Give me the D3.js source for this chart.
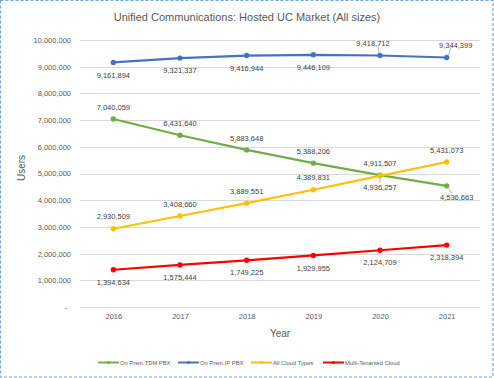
<!DOCTYPE html>
<html><head><meta charset="utf-8">
<script src="https://cdn.jsdelivr.net/npm/d3@7"></script>
<style>body{margin:0;background:#fff;}svg{display:block;font-family:"Liberation Sans",Arial,sans-serif;}</style>
</head><body>
<script>
const years = ["2016","2017","2018","2019","2020","2021"];
const seriesNames = ["On Prem TDM PBX","On Prem IP PBX","All Cloud Types","Multi-Tenanted Cloud"];
const seriesColors = ["#70AD47","#4472C4","#FFC000","#FF0000"];
const tdmPbx = [7040059,6431640,5883648,5388206,4936257,4536663];
const ipPbx = [9161894,9321337,9416944,9446109,9418712,9344399];
const allCloud = [2930509,3408660,3889551,4389831,4911507,5431073];
const multiTenant = [1394634,1575444,1749225,1929955,2124709,2318394];
const yTicks = [0,1000000,2000000,3000000,4000000,5000000,6000000,7000000,8000000,9000000,10000000];
// label placement: dx, dy relative to point; leader flag
const labelPos = [
  [[0,-12],[0,-12],[0,-12],[0,-12],[0,12,1],[10,12,1]],
  [[0,12.5],[0,12.5],[0,12.5],[0,12.5],[-7,-12,1],[9,-12,1]],
  [[0,-12],[0,-12],[0,-12],[0,-12],[0,-12],[0,-12]],
  [[0,12.5],[0,12.5],[0,12.5],[0,12.5],[0,12.5],[0,12.5]]
];
const allSeries = [tdmPbx, ipPbx, allCloud, multiTenant];

const W=494,H=378;
const svg=d3.select("body").append("svg").attr("width",W).attr("height",H);
svg.append("rect").attr("x",0.5).attr("y",0.5).attr("width",W-1.5).attr("height",H-1.5)
  .attr("fill","#fff").attr("stroke","#6FA8DC").attr("stroke-width",1.2).attr("stroke-dasharray","3,2");

const x=d3.scalePoint().domain(years).range([80,480]).padding(0.5);
const y=d3.scaleLinear().domain([0,10000000]).range([307,40]);

// grid
svg.append("g").selectAll("line").data(yTicks).join("line")
  .attr("x1",80).attr("x2",480).attr("y1",d=>Math.round(y(d))+0.5).attr("y2",d=>Math.round(y(d))+0.5)
  .attr("stroke","#D9D9D9").attr("stroke-width",1);

// y axis labels
const fmt=d3.format(",");
const yAxis=d3.axisLeft(y).tickValues(yTicks).tickSize(0).tickPadding(0).tickFormat(d=>d===0?"-":fmt(d));
const ya=svg.append("g").attr("transform","translate(71,0)").call(yAxis);
ya.select(".domain").remove();
ya.selectAll("text").attr("fill","#595959").attr("font-size","7.5px").attr("dx",d=>d===0?"-4":"0");

// x axis labels
const xAxis=d3.axisBottom(x).tickSize(0).tickPadding(0);
const xa=svg.append("g").attr("transform","translate(0,314)").call(xAxis);
xa.select(".domain").remove();
xa.selectAll("text").attr("fill","#595959").attr("font-size","7.5px");

// titles
svg.append("text").attr("x",247).attr("y",21).attr("text-anchor","middle").attr("fill","#595959")
  .attr("font-size","11px").text("Unified Communications: Hosted UC Market (All sizes)");
svg.append("text").attr("x",280).attr("y",337).attr("text-anchor","middle").attr("fill","#595959")
  .attr("font-size","10px").text("Year");
svg.append("text").attr("transform","translate(25,168) rotate(-90)").attr("text-anchor","middle").attr("fill","#595959")
  .attr("font-size","10px").text("Users");

// lines
const line=d3.line().x((d,i)=>x(years[i])).y(d=>y(d));
allSeries.forEach((s,k)=>{
  const g=svg.append("g");
  g.append("path").datum(s).attr("d",line).attr("fill","none").attr("stroke",seriesColors[k]).attr("stroke-width",2.2);
  g.selectAll("circle").data(s).join("circle").attr("cx",(d,i)=>x(years[i])).attr("cy",d=>y(d)).attr("r",2.7).attr("fill",seriesColors[k]);
});
// labels
allSeries.forEach((s,k)=>{
  s.forEach((v,i)=>{
    const p=labelPos[k][i];
    const px=x(years[i]),py=y(v);
    const lx=px+p[0],ly=py+p[1];
    if(p[2]){
      const ex = lx + (p[0]===0?0:(p[0]>0?-5:5));
      const ey = ly + (p[1]>0?-4:2);
      svg.append("line").attr("x1",px+(p[0]>0?2:(p[0]<0?-1:0))).attr("y1",py+(p[1]>0?2:-2))
        .attr("x2",ex).attr("y2",ey).attr("stroke","#A6A6A6").attr("stroke-width",0.8);
    }
    svg.append("text").attr("x",lx).attr("y",ly).attr("dy","0.35em").attr("text-anchor","middle")
      .attr("fill","#404040").attr("font-size","7.5px").text(fmt(v));
  });
});

// legend
const legX=[98,178,251,323];
seriesNames.forEach((n,k)=>{
  const g=svg.append("g").attr("transform",`translate(${legX[k]},362.5)`);
  g.append("line").attr("x1",0).attr("x2",21).attr("y1",0).attr("y2",0).attr("stroke",seriesColors[k]).attr("stroke-width",2);
  g.append("circle").attr("cx",10.5).attr("cy",0).attr("r",1.5).attr("fill",seriesColors[k]);
  g.append("text").attr("x",22).attr("y",0).attr("dy","0.35em").attr("fill","#595959").attr("font-size","5.8px").text(n);
});
</script>
</body></html>
